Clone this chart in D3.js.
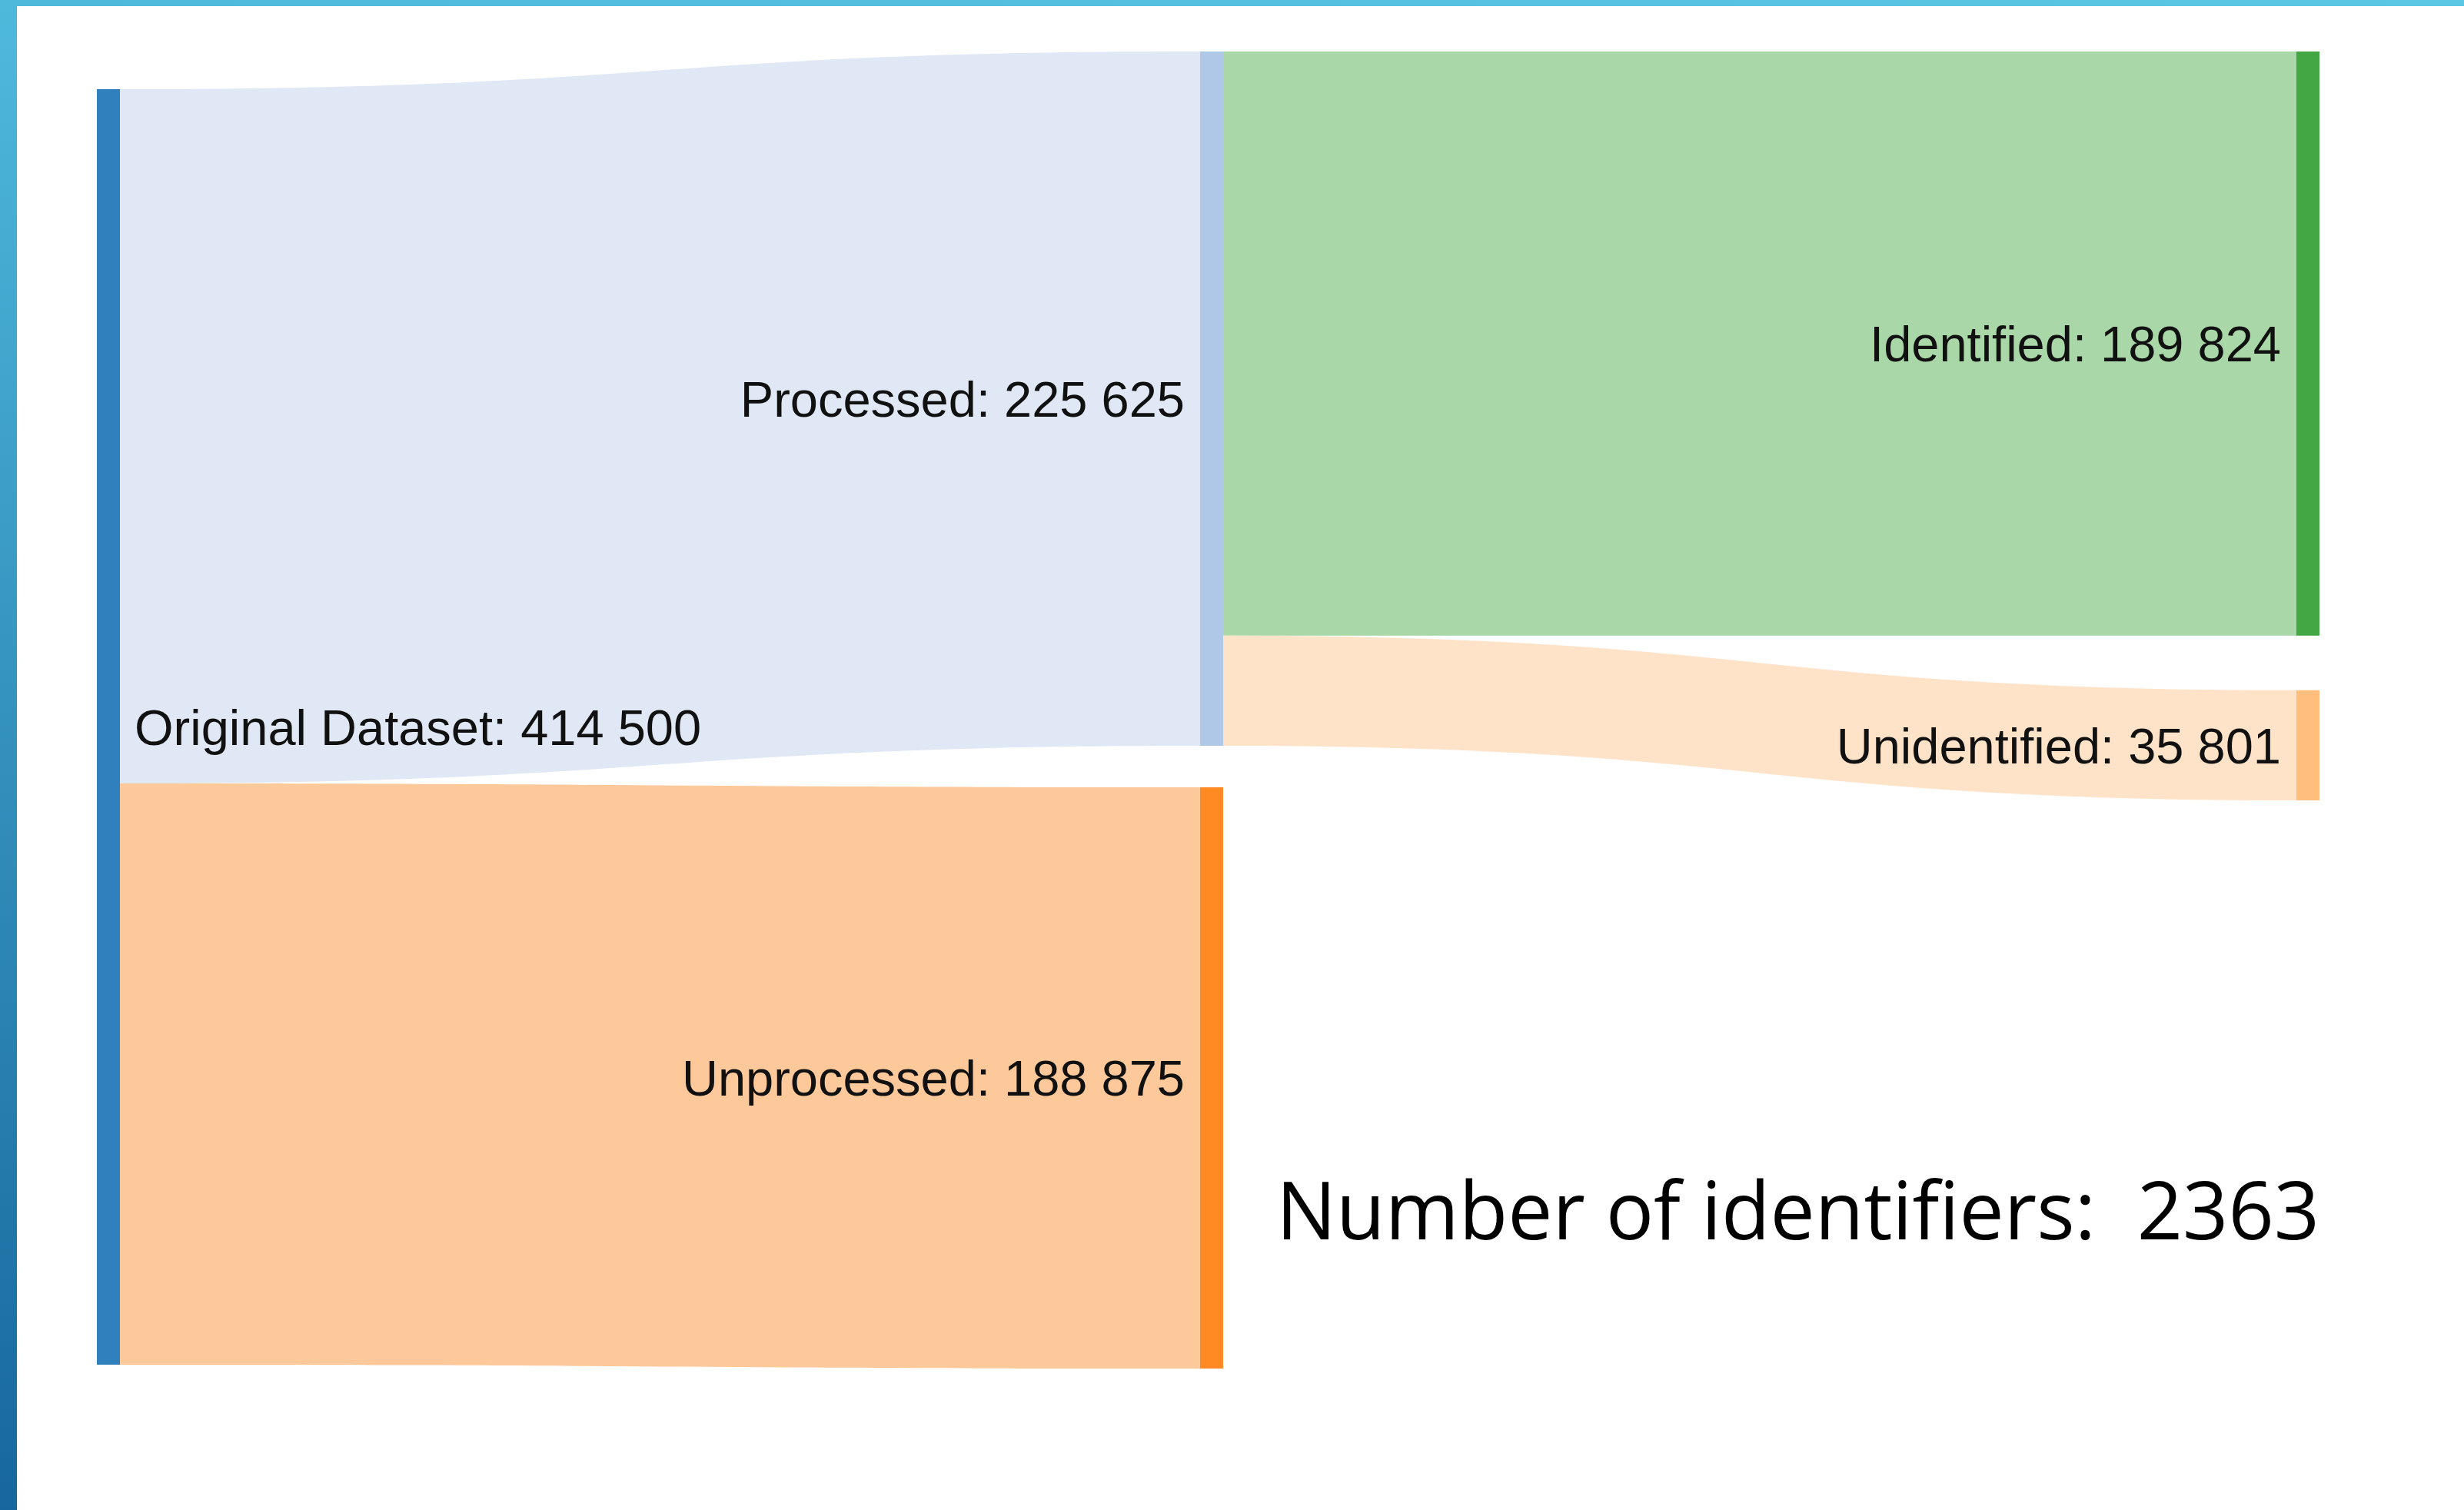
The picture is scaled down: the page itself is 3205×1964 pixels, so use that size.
<!DOCTYPE html>
<html>
<head>
<meta charset="utf-8">
<script src="https://cdn.jsdelivr.net/npm/d3@7"></script>
<style>
  html, body { margin: 0; padding: 0; background: #fff; }
  svg { display: block; }
</style>
</head>
<body>
<svg id="canvas"></svg>
<script>
const WIDTH = 3205;
const HEIGHT = 1964;

// data
const nodeNames = ["Original Dataset", "Processed", "Unprocessed", "Identified", "Unidentified"];
const nodeValues = [414500, 225625, 188875, 189824, 35801];
const nodeColumns = [0, 1, 1, 2, 2];
const linkSources = [0, 0, 1, 1];
const linkTargets = [1, 2, 3, 4];
const linkValues = [225625, 188875, 189824, 35801];
const identifierCount = 2363;

// styles
const nodeColors = ["#2f80bc", "#b0c8e8", "#ff8a24", "#43a843", "#ffbe7d"];
const linkColors = ["#dfe8f4", "#fdc99a", "#a9d7a7", "#fee3c8"];

const NODE_WIDTH = 30;
const colTop = [116, 67, 67];
const colGap = [0, 54, 71];

const svg = d3.select("#canvas").attr("width", WIDTH).attr("height", HEIGHT);

const fmt = d3.formatLocale({ decimal: ".", thousands: " ", grouping: [3], currency: ["", ""] }).format(",");

// frame
const defs = svg.append("defs");
const sideGrad = defs.append("linearGradient").attr("id", "side").attr("x1", 0).attr("y1", 0).attr("x2", 0).attr("y2", 1);
sideGrad.append("stop").attr("offset", 0).attr("stop-color", "#4fb9dc");
sideGrad.append("stop").attr("offset", 1).attr("stop-color", "#17679d");
const topGrad = defs.append("linearGradient").attr("id", "topbar").attr("x1", 0).attr("y1", 0).attr("x2", 1).attr("y2", 0);
topGrad.append("stop").attr("offset", 0).attr("stop-color", "#4fb9dc");
topGrad.append("stop").attr("offset", 1).attr("stop-color", "#5bc7e4");

svg.append("rect").attr("x", 0).attr("y", 0).attr("width", WIDTH).attr("height", 8).attr("fill", "url(#topbar)");
svg.append("rect").attr("x", 0).attr("y", 0).attr("width", 22).attr("height", HEIGHT).attr("fill", "url(#side)");

// scales
const xScale = d3.scaleLinear().domain([0, 2]).range([126, 2987]);
const vScale = d3.scaleLinear().domain([0, d3.max(nodeValues)]).range([0, 1659]);

// layout nodes
const nodes = nodeNames.map((name, i) => ({ name, value: nodeValues[i], col: nodeColumns[i], index: i }));
const nextY = colTop.slice();
nodes.forEach((n) => {
  n.x0 = n.col === 1 ? xScale(1) + 4.5 : xScale(n.col);
  n.x1 = n.x0 + NODE_WIDTH;
  n.y0 = nextY[n.col];
  n.y1 = n.y0 + vScale(n.value);
  nextY[n.col] = n.y1 + colGap[n.col];
  n.outY = n.y0;
  n.inY = n.y0;
});

const links = linkValues.map((v, i) => {
  const s = nodes[linkSources[i]];
  const t = nodes[linkTargets[i]];
  const h = vScale(v);
  const l = { value: v, source: s, target: t, sy0: s.outY, sy1: s.outY + h, ty0: t.inY, ty1: t.inY + h, index: i };
  s.outY += h;
  t.inY += h;
  return l;
});

const linkPath = (l) => {
  const x0 = l.source.x1;
  const x1 = l.target.x0;
  const xm = (x0 + x1) / 2;
  return `M${x0},${l.sy0}C${xm},${l.sy0} ${xm},${l.ty0} ${x1},${l.ty0}` +
    `L${x1},${l.ty1}C${xm},${l.ty1} ${xm},${l.sy1} ${x0},${l.sy1}Z`;
};

svg.append("g")
  .selectAll("path")
  .data(links)
  .join("path")
  .attr("d", linkPath)
  .attr("fill", (d) => linkColors[d.index]);

svg.append("g")
  .selectAll("rect")
  .data(nodes)
  .join("rect")
  .attr("x", (d) => d.x0)
  .attr("y", (d) => d.y0)
  .attr("width", NODE_WIDTH)
  .attr("height", (d) => d.y1 - d.y0)
  .attr("fill", (d) => nodeColors[d.index]);

svg.append("g")
  .selectAll("text")
  .data(nodes)
  .join("text")
  .attr("x", (d) => (d.col === 0 ? d.x1 + 19 : d.x0 - 20))
  .attr("y", (d) => (d.y0 + d.y1) / 2)
  .attr("dy", "0.36em")
  .attr("text-anchor", (d) => (d.col === 0 ? "start" : "end"))
  .attr("font-family", "'Liberation Sans', Arial, sans-serif")
  .attr("font-size", 65)
  .attr("fill", "#111")
  .text((d) => `${d.name}: ${fmt(d.value)}`);

svg.append("text")
  .attr("x", 1660)
  .attr("y", 1612)
  .attr("font-family", "'Open Sans', 'Noto Sans', sans-serif")
  .attr("font-size", 104)
  .attr("fill", "#000")
  .attr("textLength", 1357)
  .attr("lengthAdjust", "spacingAndGlyphs")
  .style("white-space", "pre")
  .text(`Number of identifiers:  ${identifierCount}`);
</script>
</body>
</html>
